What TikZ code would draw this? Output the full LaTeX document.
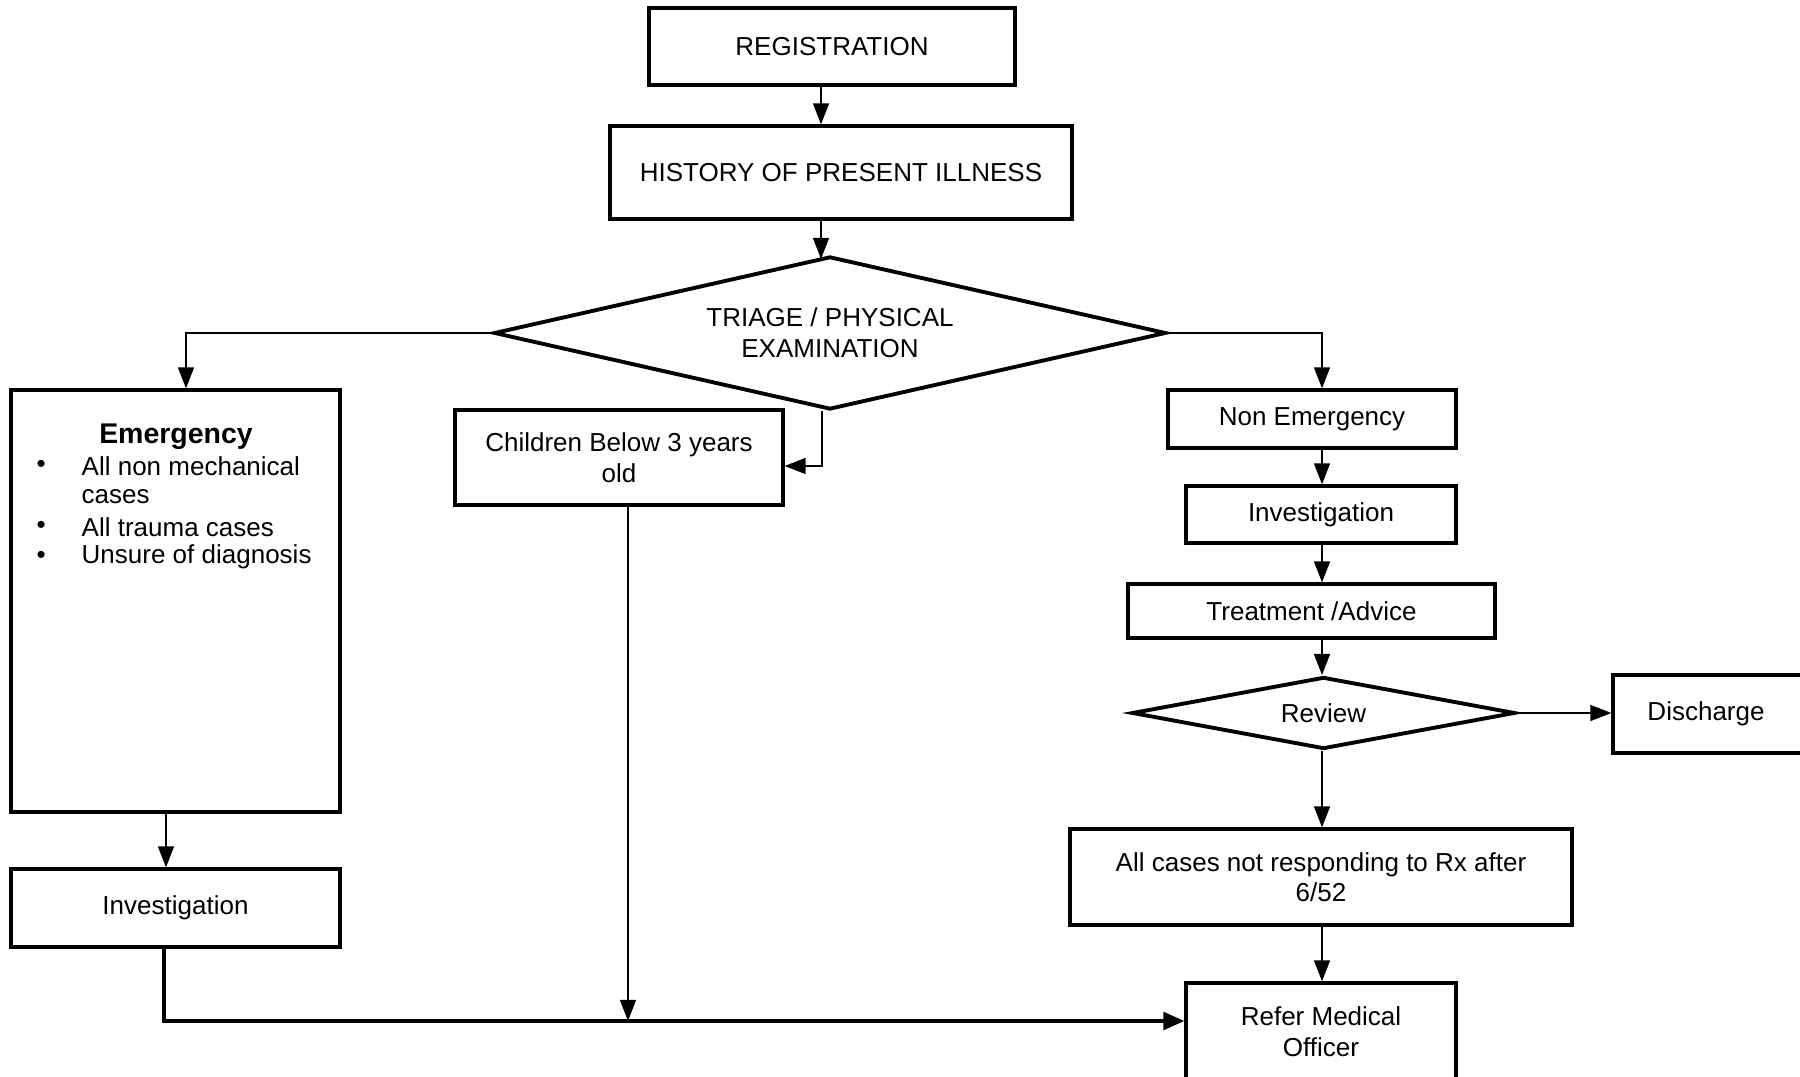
\documentclass[tikz,border=0pt]{standalone}
\usepackage{fontspec}
\setmainfont{Liberation Sans}
\usetikzlibrary{shapes.geometric,arrows.meta}
\newcommand{\bodyfont}{\fontsize{7.4}{8.7}\selectfont}
\begin{document}
\begin{tikzpicture}[x=0.1mm,y=-0.1mm,
  box/.style={draw,line width=0.9pt,inner sep=0pt,align=center,font=\bodyfont},
  dia/.style={draw,diamond,line width=1.1pt,inner sep=0pt,align=center,font=\bodyfont},
  arr/.style={line width=0.6pt,-{Triangle[length=6pt,width=4.5pt]}},
  txt/.style={inner sep=0pt,font=\bodyfont}]
\useasboundingbox[fill=white] (0,0) rectangle (1800,1077);

% top column
\node[box,minimum width=36.6mm,minimum height=7.7mm] (reg) at (832,46.5) {REGISTRATION};
\node[box,minimum width=46.2mm,minimum height=9.3mm] (hist) at (841,172.5) {HISTORY OF PRESENT ILLNESS};
\node[dia,aspect=4.39,minimum width=67.2mm,minimum height=15.3mm] (tri) at (830,333) {TRIAGE / PHYSICAL\\EXAMINATION};
\coordinate (ax) at (821,0);

% left
\node[box,minimum width=32.9mm,minimum height=42.2mm] (emer) at (175.5,601) {};
\node[txt,font=\fontsize{8.1}{9}\selectfont\bfseries] (emh) at (176,437) {Emergency};
\node[txt,anchor=west] (b1) at (36,466) {•};
\node[txt,anchor=west] (e1) at (81,466) {All non mechanical};
\node[txt,anchor=west] (e1b) at (81,497) {cases};
\node[txt,anchor=west] (b2) at (36,527) {•};
\node[txt,anchor=west] (e2) at (81,527) {All trauma cases};
\node[txt,anchor=west] (b3) at (36,557) {•};
\node[txt,anchor=west] (e3) at (81,557) {Unsure of diagnosis};
\node[box,minimum width=32.9mm,minimum height=7.8mm] (invl) at (175.5,908) {Investigation};

% middle
\node[box,minimum width=32.8mm,minimum height=9.5mm] (child) at (619,457.5) {Children Below 3 years\\old};

% right
\node[box,minimum width=28.8mm,minimum height=5.8mm] (nonem) at (1312,419) {Non Emergency};
\node[box,minimum width=27mm,minimum height=5.7mm] (invr) at (1321,514.5) {Investigation};
\node[box,minimum width=36.7mm,minimum height=5.4mm] (treat) at (1311.5,611) {Treatment /Advice};
\node[dia,aspect=5.3,minimum width=38.3mm,minimum height=7.2mm] (rev) at (1323.5,713) {Review};
\node[box,minimum width=20mm,minimum height=7.8mm] (dis) at (1713,714) {};
\node[txt] (distxt) at (1706,714) {Discharge};
\node[box,minimum width=50.2mm,minimum height=9.6mm] (all) at (1321,877) {All cases not responding to Rx after\\6/52};
\node[box,minimum width=27mm,minimum height=9.7mm] (ref) at (1321,1031.5) {Refer Medical\\Officer};

\coordinate (rx) at (1322,0);
\coordinate (lx) at (186,0);
\coordinate (ex) at (166,0);
\coordinate (ix) at (164,0);
\coordinate (cx) at (628,0);
\coordinate (tx) at (822,0);
\coordinate (by) at (0,1021);
\coordinate (cy) at (0,466);
\coordinate (ty) at (0,259);

% connectors
\draw[arr] (reg.south -| ax) -- (hist.north -| ax);
\draw[arr] (hist.south -| ax) -- (ax |- ty);
\draw[arr] (tri.west) -| (emer.north -| lx);
\draw[arr] (tri.south -| tx) |- (child.east |- cy);
\draw[arr] (tri.east) -| (nonem.north -| rx);
\draw[arr] (nonem.south -| rx) -- (invr.north -| rx);
\draw[arr] (invr.south -| rx) -- (treat.north -| rx);
\draw[arr] (treat.south -| rx) -- (rev.north -| rx);
\draw[arr] (rev.east) -- (dis.west |- rev.east);
\draw[arr] (rev.south -| rx) -- (all.north -| rx);
\draw[arr] (all.south -| rx) -- (ref.north -| rx);
\draw[arr] (emer.south -| ex) -- (invl.north -| ex);
\draw[arr] (child.south -| cx) -- (cx |- by);
\draw[line width=1.1pt,-{Triangle[length=6pt,width=5pt]}] (invl.south -| ix) |- (ref.west |- by);
\end{tikzpicture}
\end{document}
